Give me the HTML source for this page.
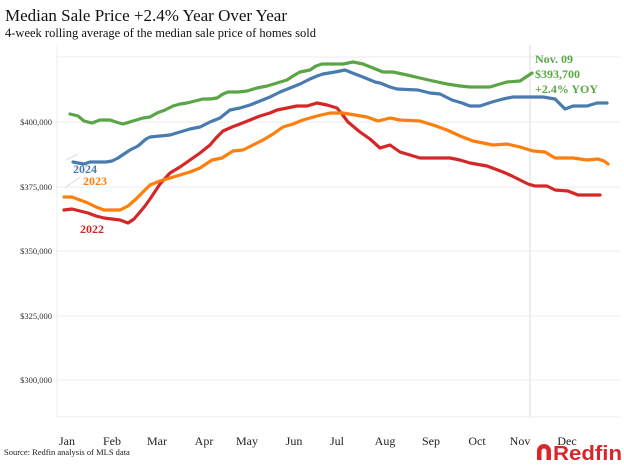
<!DOCTYPE html>
<html><head><meta charset="utf-8"><style>
body{margin:0;background:#fff;}
svg text{font-family:"Liberation Serif",serif;}
</style></head><body>
<svg width="624" height="464" xmlns="http://www.w3.org/2000/svg">
<rect width="624" height="464" fill="#fff"/>
<text x="5" y="21" font-size="17" fill="#111">Median Sale Price +2.4% Year Over Year</text>
<text x="5" y="37" font-size="12.5" fill="#111">4-week rolling average of the median sale price of homes sold</text>
<g stroke="#eeeeee" stroke-width="1">
<line x1="57" y1="57" x2="620" y2="57"/>
<line x1="57" y1="122" x2="620" y2="122"/>
<line x1="57" y1="187" x2="620" y2="187"/>
<line x1="57" y1="251" x2="620" y2="251"/>
<line x1="57" y1="316" x2="620" y2="316"/>
<line x1="57" y1="380" x2="620" y2="380"/>
<line x1="57" y1="417" x2="620" y2="417"/>
<line x1="57" y1="45" x2="57" y2="417"/>
</g>
<line x1="530" y1="45" x2="530" y2="417" stroke="#dcdcdc" stroke-width="1"/>
<g font-size="8.5" fill="#333" text-anchor="end">
<text x="52" y="125">$400,000</text>
<text x="52" y="190">$375,000</text>
<text x="52" y="254">$350,000</text>
<text x="52" y="319">$325,000</text>
<text x="52" y="383">$300,000</text>
</g>
<g font-size="12" fill="#222" text-anchor="middle">
<text x="67" y="445">Jan</text><text x="112" y="445">Feb</text><text x="157" y="445">Mar</text><text x="204" y="445">Apr</text><text x="247" y="445">May</text><text x="294" y="445">Jun</text><text x="337" y="445">Jul</text><text x="385" y="445">Aug</text><text x="431" y="445">Sep</text><text x="477" y="445">Oct</text><text x="520" y="445">Nov</text><text x="567" y="445">Dec</text>
</g>
<g fill="none" stroke-width="3.2" stroke-linejoin="round" stroke-linecap="round">
<polyline stroke="#d62728" points="64,210 72,209 80,211 88,213 96,216 104,218 112,219 120,220 128,223 134,219 140,212 145,206 150,199 160,184 170,173 180,167 190,160 200,153 210,145 216,138 223,131 232,127 240,124 250,120 260,116 270,113 277,110 287,108 297,106 307,106 317,103 327,105 337,108 342,114 348,122 354,127 360,132 370,139 380,148 390,145 400,152 410,155 420,158 435,158 450,158 460,160 470,163 487,166 495,169 503,172 512,176 520,180 528,184 535,186 547,186 555,190 568,191 578,195 600,195"/>
<polyline stroke="#ff7f0e" points="64,197 72,197 80,200 88,203 96,207 104,210 112,210 120,210 128,206 136,199 143,192 150,185 160,181 170,178 180,175 190,172 200,168 212,160 222,158 233,151 243,150 253,145 263,140 273,134 283,127 293,124 303,120 317,116 330,113 343,113 355,115 367,117 378,121 390,118 400,120 420,121 433,125 447,130 460,136 473,141 493,145 507,144 520,147 533,151 545,152 555,158 573,158 587,160 598,159 604,161 608,164"/>
<polyline stroke="#4a7bb0" points="73,162 78,163 84,164 90,162 98,162 106,162 112,161 118,158 124,154 130,150 138,146 146,139 150,137 160,136 170,135 180,132 190,129 200,127 210,122 220,118 230,110 240,108 250,105 260,101 270,97 280,92 290,88 300,84 310,79 317,76 323,74 335,72 345,70 355,74 363,77 375,82 380,83 390,87 397,89 418,90 430,93 440,94 452,100 462,103 470,106 480,106 492,102 503,99 513,97 543,97 555,99 565,109 573,106 587,106 597,103 607,103"/>
<polyline stroke="#5aa646" points="70,114 78,116 84,121 92,123 100,120 110,120 116,122 123,124 133,121 143,118 150,117 157,113 165,110 173,106 180,104 187,103 195,101 203,99 210,99 217,98 223,94 228,92 238,92 247,91 257,88 267,86 277,83 287,80 293,76 300,72 310,70 316,66 322,64 333,64 343,64 353,62 363,64 373,68 383,72 393,72 407,75 420,78 433,81 447,84 460,86 470,87 490,87 500,84 507,82 520,81 526,77 532,73"/>
</g>
<line x1="65" y1="188" x2="80" y2="177" stroke="#ddd" stroke-width="1"/>
<line x1="66" y1="160" x2="78" y2="154" stroke="#ddd" stroke-width="1"/>
<g font-size="12" font-weight="bold">
<text x="73" y="173" fill="#4a7bb0">2024</text>
<text x="83" y="185" fill="#ff7f0e">2023</text>
<text x="80" y="233" fill="#c62828">2022</text>
</g>
<g font-size="12" font-weight="bold" fill="#5aa646">
<text x="535" y="63">Nov. 09</text>
<text x="535" y="78">$393,700</text>
<text x="535" y="93">+2.4% YOY</text>
</g>
<text x="4" y="455" font-size="8.5" fill="#222">Source: Redfin analysis of MLS data</text>
<g fill="#d8262b">
<path d="M537 460 v-9 a7 7 0 0 1 14 0 v9 h-4.5 v-9 a2.5 2.5 0 0 0 -5 0 v9 z"/>
<text x="553" y="460" font-size="20" font-weight="bold" textLength="69" lengthAdjust="spacingAndGlyphs" style="font-family:'Liberation Sans',sans-serif">Redfin</text>
</g>
</svg>
</body></html>
